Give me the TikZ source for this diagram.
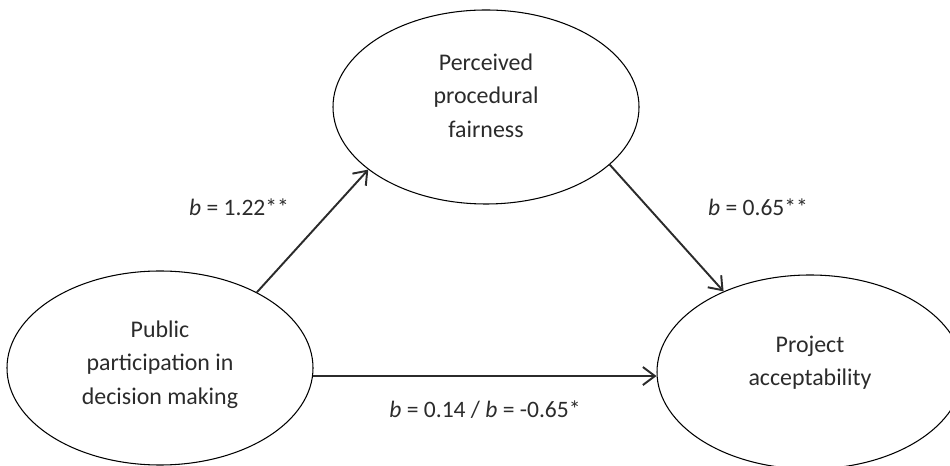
\documentclass[tikz,border=0pt]{standalone}
\usepackage{fontspec}
\setmainfont{Carlito}
\usetikzlibrary{arrows.meta,shapes.geometric}
\definecolor{Ink}{HTML}{2B2B2B}
% zero-width strut below the last line, lifts the text inside the ellipse
\newcommand{\dropline}[1]{\rule[-#1]{0pt}{#1}}
\tikzset{
  latent/.style={draw,ellipse,line width=0.6pt,minimum width=61.2mm,minimum height=38.8mm,
    inner sep=0pt,align=center,text=Ink,font=\fontsize{13.6}{19}\selectfont},
  arrow/.style={-{Straight Barb[length=2.4mm,width=3.6mm]},line width=1.1pt,color=Ink},
  coef/.style={text=Ink,font=\fontsize{13.4}{16}\selectfont}
}
\begin{document}
\begin{tikzpicture}[x=0.2mm,y=-0.2mm]
  \useasboundingbox (0,0) rectangle (950,466);
  \node[latent] (fair) at (486,107) {Perceived\\procedural\\fairness\dropline{4.6mm}};
  \node[latent] (part) at (160,368) {Public\\participation in\\decision making\dropline{2.2mm}};
  \node[latent] (accept) at (810,372) {Project\\acceptability\dropline{4.6mm}};
  \draw[arrow] (part.38) -- (fair.208);
  \draw[arrow] (fair.335) -- (accept.137);
  \draw[arrow] (part.-3) -- (part.-3 -| accept.west);
  \node[coef] (coefa) at (239,207) {\textit{b} = 1.22**};
  \node[coef] (coefb) at (758,207) {\textit{b} = 0.65**};
  \node[coef] (coefc) at (485,410) {\textit{b} = 0.14 / \textit{b} = -0.65*};
\end{tikzpicture}
\end{document}
